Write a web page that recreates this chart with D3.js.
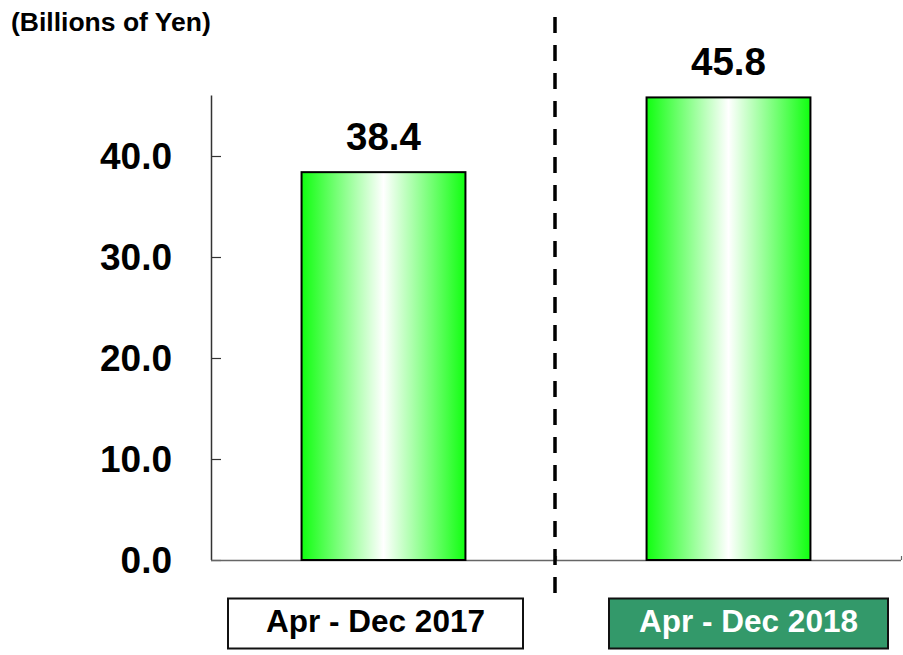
<!DOCTYPE html>
<html>
<head>
<meta charset="utf-8">
<script src="https://cdn.jsdelivr.net/npm/d3@7"></script>
<style>
  html, body { margin: 0; padding: 0; background: #fff; }
  svg { display: block; font-family: "Liberation Sans", Arial, Helvetica, sans-serif; }
</style>
</head>
<body>
<svg id="chart" width="903" height="655"></svg>
<script>
// ---- data ----
const categories = ["Apr - Dec 2017", "Apr - Dec 2018"];
const values = [38.4, 45.8];
const valueLabels = ["38.4", "45.8"];
const yTicks = [0, 10, 20, 30, 40];
const unitLabel = "(Billions of Yen)";

// ---- layout ----
const W = 903, H = 655;
const plot = { left: 211, right: 901, top: 95.4, bottom: 560 };

const svg = d3.select("#chart");

const x = d3.scaleBand()
  .domain(categories)
  .range([plot.left, plot.right])
  .paddingInner(0.525)
  .paddingOuter(0.2625);

const y = d3.scaleLinear()
  .domain([0, 46])
  .range([plot.bottom, plot.top]);

// gradient
const defs = svg.append("defs");
const grad = defs.append("linearGradient")
  .attr("id", "barGrad")
  .attr("x1", "0%").attr("x2", "100%").attr("y1", "0%").attr("y2", "0%");
grad.append("stop").attr("offset", "0%").attr("stop-color", "#10ff10");
grad.append("stop").attr("offset", "50%").attr("stop-color", "#ffffff");
grad.append("stop").attr("offset", "100%").attr("stop-color", "#10ff10");

// unit label
svg.append("text")
  .attr("x", 11).attr("y", 31)
  .attr("font-size", 26.5).attr("font-weight", "bold")
  .attr("fill", "#000")
  .text(unitLabel);

// y axis
const yAxis = d3.axisRight(y)
  .tickValues(yTicks)
  .tickSize(10)
  .tickFormat("");
const gy = svg.append("g")
  .attr("transform", `translate(${plot.left},0)`)
  .call(yAxis);
gy.select(".domain").attr("d", `M0.5,${y(46)}V${plot.bottom}`)
  .attr("stroke", "#333").attr("stroke-width", 1.5);
gy.selectAll(".tick line").attr("stroke", "#333").attr("stroke-width", 1.2);

// y tick labels
svg.append("g").selectAll("text")
  .data(yTicks)
  .join("text")
  .attr("x", 172)
  .attr("y", d => y(d))
  .attr("dy", "0.36em")
  .attr("text-anchor", "end")
  .attr("font-size", 37)
  .attr("font-weight", "bold")
  .attr("fill", "#000")
  .text(d => d3.format(".1f")(d));

// x baseline
const xAxis = d3.axisTop(d3.scaleLinear().domain([0, 2]).range([plot.left, plot.right]))
  .tickValues([1, 2]).tickSize(4).tickFormat("");
const gx = svg.append("g")
  .attr("transform", `translate(0,${plot.bottom})`)
  .call(xAxis);
gx.select(".domain").attr("d", `M${plot.left},0.5H${plot.right}`)
  .attr("stroke", "#666").attr("stroke-width", 1.5);
gx.selectAll(".tick line").attr("stroke", "#666").attr("stroke-width", 1.2);

// bars
svg.append("g").selectAll("rect")
  .data(values)
  .join("rect")
  .attr("x", (d, i) => x(categories[i]))
  .attr("width", x.bandwidth())
  .attr("y", d => y(d))
  .attr("height", d => y(0) - y(d))
  .attr("fill", "url(#barGrad)")
  .attr("stroke", "#000")
  .attr("stroke-width", 2);

// value labels
svg.append("g").selectAll("text")
  .data(values)
  .join("text")
  .attr("x", (d, i) => x(categories[i]) + x.bandwidth() / 2)
  .attr("y", d => y(d) - 22.5)
  .attr("text-anchor", "middle")
  .attr("font-size", 38.5)
  .attr("font-weight", "bold")
  .attr("fill", "#000")
  .text((d, i) => valueLabels[i]);

// dashed divider
const divX = x(categories[1]) - x.step() * x.paddingInner() / 2;
svg.append("line")
  .attr("x1", divX - 1).attr("x2", divX - 1)
  .attr("y1", 17).attr("y2", 596)
  .attr("stroke", "#000")
  .attr("stroke-width", 3.5)
  .attr("stroke-dasharray", "16,12");

// category boxes
const boxes = [
  { dx: -8, w: 295, fill: "#ffffff", text: "#000000" },
  { dx: 20, w: 279, fill: "#33996a", text: "#ffffff" }
];
const gb = svg.append("g").selectAll("g")
  .data(categories)
  .join("g")
  .attr("transform", (d, i) => {
    const cx = x(d) + x.bandwidth() / 2 + boxes[i].dx;
    return `translate(${cx},0)`;
  });
gb.append("rect")
  .attr("x", (d, i) => -boxes[i].w / 2)
  .attr("y", 598.5)
  .attr("width", (d, i) => boxes[i].w)
  .attr("height", 50)
  .attr("fill", (d, i) => boxes[i].fill)
  .attr("stroke", "#111")
  .attr("stroke-width", 2);
gb.append("text")
  .attr("x", 0)
  .attr("y", 632)
  .attr("text-anchor", "middle")
  .attr("font-size", 31.5)
  .attr("font-weight", "bold")
  .attr("fill", (d, i) => boxes[i].text)
  .text(d => d);
</script>
</body>
</html>
